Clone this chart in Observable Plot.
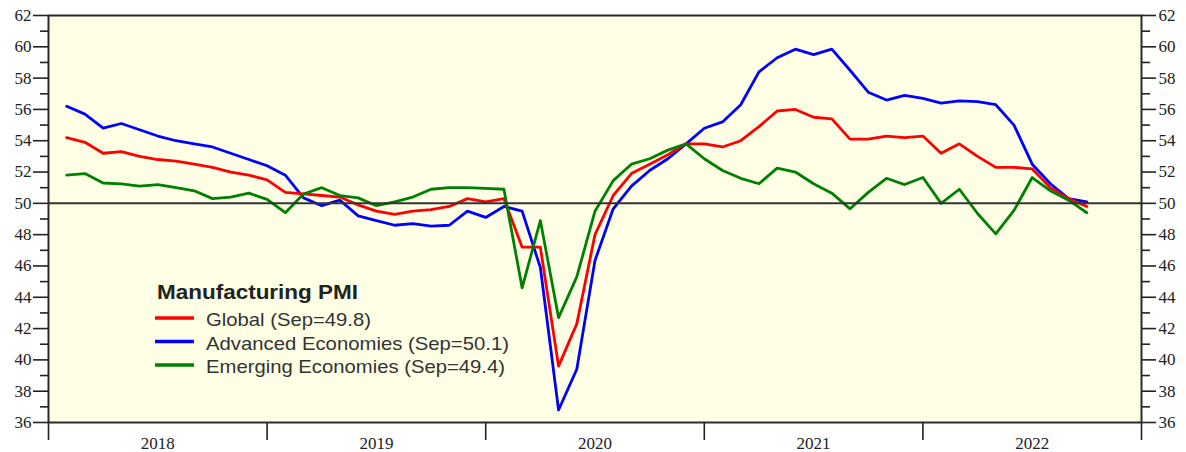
<!DOCTYPE html>
<html><head><meta charset="utf-8">
<script src="https://cdn.jsdelivr.net/npm/d3@7"></script>
<script src="https://cdn.jsdelivr.net/npm/@observablehq/plot@0.6"></script>
<style>
body{margin:0;background:#fff;}
#wrap{position:relative;width:1186px;height:452px;}
#wrap svg{display:block;}
</style></head><body><div id="wrap"></div>
<script>
// Month index: 1 = Jan 2018 (plotted at month end) ... 57 = Sep 2022
const years = ["2018", "2019", "2020", "2021", "2022"];
const legendTitle = "Manufacturing PMI";
const seriesNames = ["Global (Sep=49.8)", "Advanced Economies (Sep=50.1)", "Emerging Economies (Sep=49.4)"];
const seriesColors = ["#ff0000", "#0000ff", "#008000"];

const globalPMI = [
  54.2, 53.9, 53.2, 53.3, 53.0, 52.8, 52.7, 52.5, 52.3, 52.0, 51.8, 51.5,
  50.7, 50.6, 50.5, 50.4, 49.9, 49.5, 49.3, 49.5, 49.6, 49.8, 50.3, 50.1,
  50.3, 47.2, 47.2, 39.6, 42.3, 48.0, 50.5, 51.9, 52.5, 53.1, 53.8, 53.8,
  53.6, 54.0, 54.9, 55.9, 56.0, 55.5, 55.4, 54.1, 54.1, 54.3, 54.2, 54.3,
  53.2, 53.8, 53.0, 52.3, 52.3, 52.2, 51.0, 50.3, 49.8
];
const advancedPMI = [
  56.2, 55.7, 54.8, 55.1, 54.7, 54.3, 54.0, 53.8, 53.6, 53.2, 52.8, 52.4,
  51.8, 50.35, 49.85, 50.2, 49.2, 48.9, 48.6, 48.7, 48.55, 48.6, 49.5, 49.1,
  49.8, 49.5, 45.9, 36.8, 39.4, 46.35, 49.65, 51.1, 52.1, 52.85, 53.8, 54.8,
  55.2, 56.3, 58.4, 59.3, 59.85, 59.5, 59.85, 58.5, 57.1, 56.6, 56.9, 56.7,
  56.4, 56.55, 56.5, 56.3, 55.0, 52.5, 51.25, 50.3, 50.1
];
const emergingPMI = [
  51.8, 51.9, 51.3, 51.25, 51.1, 51.2, 51.0, 50.8, 50.3, 50.4, 50.65, 50.25,
  49.4, 50.6, 51.0, 50.5, 50.35, 49.85, 50.1, 50.4, 50.9, 51.0, 51.0, 50.95,
  50.9, 44.6, 48.9, 42.7, 45.3, 49.5, 51.45, 52.5, 52.85, 53.4, 53.8, 52.85,
  52.1, 51.6, 51.25, 52.25, 52.0, 51.25, 50.65, 49.65, 50.7, 51.6, 51.2, 51.65,
  50.0, 50.9, 49.35, 48.05, 49.55, 51.65, 50.8, 50.2, 49.4
];
const yMajorTicks = [36, 38, 40, 42, 44, 46, 48, 50, 52, 54, 56, 58, 60, 62];
const yMinorTicks = [37, 39, 41, 43, 45, 47, 49, 51, 53, 55, 57, 59, 61];
const yearBoundaries = [0, 12, 24, 36, 48, 60];
const yearCenters = [6, 18, 30, 42, 54];

const seriesValues = [globalPMI, advancedPMI, emergingPMI];
const rows = [];
seriesValues.forEach((vals, s) => vals.forEach((v, i) => rows.push({m: i + 1, value: v, series: seriesNames[s]})));
const drawOrder = [1, 0, 2];

const serif = '"Liberation Serif","Times New Roman",serif';
const chart = Plot.plot({
  width: 1186, height: 452,
  marginLeft: 48, marginRight: 45, marginTop: 15, marginBottom: 30,
  x: {domain: [0, 60]},
  y: {domain: [36, 62]},
  style: {fontFamily: serif, fontSize: "17px", color: "#222", background: "transparent", overflow: "visible"},
  marks: [
    Plot.frame({fill: "#FFFFE6", stroke: null}),
    Plot.axisY({ticks: yMajorTicks, anchor: "left", tickSize: 15, tickPadding: 2, label: null, strokeWidth: 1.6, fill: "#222", fontSize: 17}),
    Plot.axisY({ticks: yMinorTicks, anchor: "left", tickSize: 8, tickFormat: () => "", label: null, strokeWidth: 1.6}),
    Plot.axisY({ticks: yMajorTicks, anchor: "right", tickSize: 14, tickPadding: 3, label: null, strokeWidth: 1.6, fill: "#222", fontSize: 17}),
    Plot.axisY({ticks: yMinorTicks, anchor: "right", tickSize: 8, tickFormat: () => "", label: null, strokeWidth: 1.6}),
    Plot.axisX({ticks: yearBoundaries, tickSize: 18, tickFormat: () => "", label: null, strokeWidth: 1.6}),
    Plot.axisX({ticks: yearCenters, tickSize: 0, tickPadding: 14, tickFormat: d => years[(d - 6) / 12], label: null, fontSize: 17, fill: "#222"}),
    ...drawOrder.map(s => Plot.line(rows.filter(r => r.series === seriesNames[s]), {
      x: "m", y: "value", stroke: seriesColors[s], strokeWidth: 2.8, strokeLinejoin: "round", strokeLinecap: "round"
    })),
    Plot.ruleY([50], {stroke: "#333", strokeWidth: 2}),
    Plot.frame({stroke: "#2a2a2a", strokeWidth: 2})
  ]
});
const wrap = document.getElementById("wrap");
wrap.appendChild(chart);

// Legend overlay (inside plot area, lower left)
const sans = '"Liberation Sans",Arial,sans-serif';
const leg = d3.select(wrap).append("svg")
  .attr("width", 1186).attr("height", 452)
  .style("position", "absolute").style("left", "0px").style("top", "0px")
  .style("pointer-events", "none");
leg.append("text").attr("x", 157).attr("y", 299)
  .attr("font-family", sans).attr("font-weight", "bold").attr("font-size", 20)
  .attr("fill", "#222").attr("textLength", 201).attr("lengthAdjust", "spacingAndGlyphs")
  .text(legendTitle);
const itemY = [318, 341.5, 365];
const itemLen = [165, 303, 299];
seriesNames.forEach((name, i) => {
  leg.append("line").attr("x1", 155).attr("x2", 194).attr("y1", itemY[i]).attr("y2", itemY[i])
    .attr("stroke", seriesColors[i]).attr("stroke-width", 3.5);
  leg.append("text").attr("x", 206).attr("y", itemY[i] + 8)
    .attr("font-family", sans).attr("font-size", 19).attr("fill", "#333")
    .attr("textLength", itemLen[i]).attr("lengthAdjust", "spacingAndGlyphs")
    .text(name);
});
</script></body></html>
